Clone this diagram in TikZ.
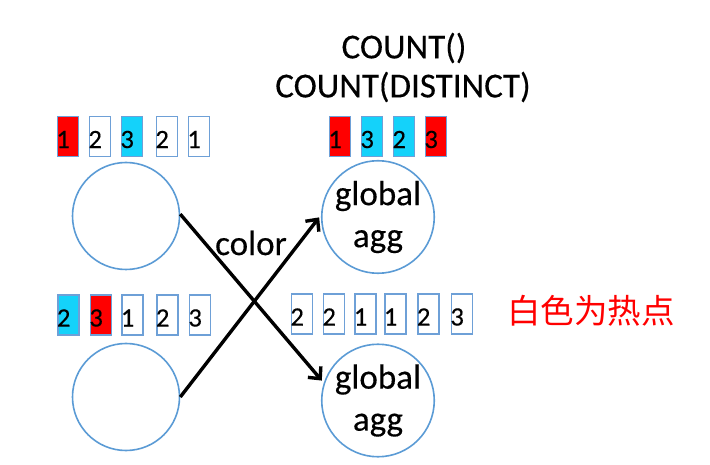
\documentclass[tikz,border=0pt]{standalone}
\usepackage{fontspec}
\setmainfont{Carlito}[BoldFont=Carlito, BoldFeatures={FakeBold=0.35}]
\newfontfamily\cjkfont{Noto Sans CJK SC}
\usetikzlibrary{arrows.meta}
\definecolor{lineblue}{RGB}{91,155,213}
\definecolor{cellblue}{RGB}{110,160,215}
\definecolor{hotcyan}{RGB}{20,210,250}
\definecolor{hotred}{RGB}{255,0,0}
\tikzset{
  cell/.style={draw=cellblue, line width=1.5pt, minimum width=21pt, minimum height=40pt, inner sep=0pt},
  digit/.style={anchor=west, inner sep=0pt, font=\bfseries\fontsize{26.5}{30}\selectfont, yshift=-3pt, xshift=-0.5pt},
  worker/.style={circle, draw=lineblue, line width=1.6pt, minimum size=107pt, inner sep=0pt},
  aggnode/.style={worker, align=center, font=\bfseries\fontsize{35}{42}\selectfont},
  bigtext/.style={inner sep=0pt, font=\bfseries\fontsize{35}{40}\selectfont},
  flow/.style={line width=3.4pt, -{Straight Barb[length=9pt,width=17pt]}, shorten >=3pt},
}
\begin{document}
\begin{tikzpicture}[x=1pt,y=1pt]
\useasboundingbox (0,0) rectangle (710,464);
% circles
\node[worker] (tl) at (126,248) {};
\node[worker] (bl) at (126,67) {};
\node[aggnode] (tr) at (378,247) {global\\agg};
\node[aggnode] (br) at (378,63.5) {global\\agg};
% top-left row
\foreach \x/\d/\c [count=\i] in {68/1/hotred,100/2/white,132/3/hotcyan,167/2/white,199/1/white}{
  \node[cell, fill=\c] (a\i) at (\x,327.5) {};
  \node[digit] (ad\i) at (a\i.west) {\d};
}
% bottom-left row
\foreach \x/\d/\c [count=\i] in {68.5/2/hotcyan,101/3/hotred,132.5/1/white,167.5/2/white,200/3/white}{
  \node[cell, fill=\c] (b\i) at (\x,149) {};
  \node[digit] (bd\i) at (b\i.west) {\d};
}
% top-right row
\foreach \x/\d/\c [count=\i] in {340/1/hotred,372/3/hotcyan,404/2/hotcyan,436/3/hotred}{
  \node[cell, fill=\c] (c\i) at (\x,327.5) {};
  \node[digit] (cd\i) at (c\i.west) {\d};
}
% middle-right row
\foreach \x/\d [count=\i] in {302/2,334/2,365.5/1,395.5/1,428.5/2,462/3}{
  \node[cell, fill=white] (m\i) at (\x,150) {};
  \node[digit] (md\i) at (m\i.west) {\d};
}
% titles
\node[bigtext] (count1) at (404,416) {COUNT()};
\node[bigtext] (count2) at (403,377) {COUNT(DISTINCT)};
\node[bigtext] (color) at (251,221) {color};
\node[inner sep=0pt, text=hotred, font=\cjkfont\fontsize{33.5}{38}\selectfont] (hot) at (591,153) {白色为热点};
% arrows
\draw[flow] (tl.2) -- (br.162);
\draw[flow] (bl.east) -- (tr.178);
\end{tikzpicture}
\end{document}
